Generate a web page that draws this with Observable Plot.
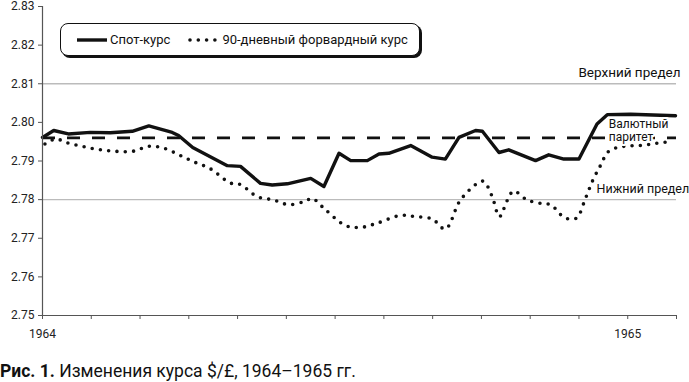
<!DOCTYPE html>
<html>
<head>
<meta charset="utf-8">
<script src="https://cdn.jsdelivr.net/npm/d3@7"></script>
<script src="https://cdn.jsdelivr.net/npm/@observablehq/plot@0.6"></script>
<style>
  html, body { margin: 0; padding: 0; background: #fff; }
  body { width: 689px; height: 382px; overflow: hidden; font-family: Roboto, "Noto Sans", sans-serif; color: #111; }
  #wrap { position: relative; width: 689px; height: 345px; }
  #legend {
    position: absolute; left: 60px; top: 23px; width: 358px; height: 31px;
    border: 1.3px solid #111; border-radius: 8px; box-shadow: 2px 2px 0 #111;
    background: #fff; display: flex; align-items: center; font-size: 13px; box-sizing: content-box;
  }
  #legend svg { display: block; }
  #caption { font-size: 17.5px; margin-top: 15px; line-height: 22px; white-space: nowrap; color: #111; }
</style>
</head>
<body>
<div id="wrap"></div>
<div id="caption"><b>Рис. 1.</b> Изменения курса $/£, 1964–1965 гг.</div>
<script>
// x: months since January 1964 (0 = Jan 1964, 12 = Jan 1965)
const spotMonth = [0, 0.23, 0.53, 0.98, 1.39, 1.84, 2.18, 2.66, 2.79, 3.08, 3.79, 4.06, 4.47, 4.71, 5.02, 5.50, 5.77, 6.08, 6.32, 6.66, 6.90, 7.10, 7.55, 7.99, 8.26, 8.54, 8.88, 9.02, 9.36, 9.56, 10.11, 10.38, 10.69, 11.00, 11.37, 11.58, 12.06, 12.98];
const spotRate  = [2.7961, 2.7979, 2.7970, 2.7974, 2.7973, 2.7977, 2.7991, 2.7974, 2.7966, 2.7935, 2.7888, 2.7886, 2.7842, 2.7838, 2.7841, 2.7855, 2.7834, 2.7920, 2.7901, 2.7901, 2.7918, 2.7920, 2.7940, 2.7910, 2.7905, 2.7961, 2.7979, 2.7977, 2.7922, 2.7929, 2.7901, 2.7916, 2.7905, 2.7905, 2.7996, 2.8020, 2.8021, 2.8017];

const fwdMonth = [0.05, 0.27, 0.51, 0.85, 1.19, 1.84, 2.18, 2.49, 2.83, 3.10, 3.44, 3.85, 4.06, 4.40, 4.74, 5.05, 5.39, 5.53, 5.80, 6.21, 6.52, 6.86, 7.34, 7.65, 7.99, 8.26, 8.57, 8.95, 9.05, 9.22, 9.37, 9.53, 9.66, 9.94, 10.28, 10.42, 10.69, 10.83, 10.96, 11.13, 11.28, 11.44, 11.61, 11.92, 12.26, 12.60, 12.91];
const fwdRate  = [2.7944, 2.7957, 2.7947, 2.7937, 2.7929, 2.7925, 2.7938, 2.7933, 2.7914, 2.7898, 2.7880, 2.7843, 2.7839, 2.7808, 2.7799, 2.7787, 2.7796, 2.7803, 2.7774, 2.7733, 2.7728, 2.7739, 2.7759, 2.7756, 2.7750, 2.7724, 2.7799, 2.7845, 2.7847, 2.7808, 2.7756, 2.7798, 2.7822, 2.7799, 2.7789, 2.7787, 2.7754, 2.7750, 2.7753, 2.7802, 2.7849, 2.7888, 2.7925, 2.7938, 2.7940, 2.7946, 2.7951];

const parity = [2.796];
const limits = [2.81, 2.78];
const yTicks = [2.75, 2.76, 2.77, 2.78, 2.79, 2.80, 2.81, 2.82, 2.83];
const monthTicks = [0, 1, 2, 3, 4, 5, 6, 7, 8, 9, 10, 11, 12, 13];
const yearLabels = {0: "1964", 12: "1965"};
const seriesNames = ["Спот-курс", "90-дневный форвардный курс"];
const upperLabel = ["Верхний предел"];
const parityLabel = ["Валютный\nпаритет"];
const lowerLabel = ["Нижний предел"];

const spot = spotMonth.map((m, i) => ({m, v: spotRate[i]}));
const fwd = fwdMonth.map((m, i) => ({m, v: fwdRate[i]}));

const chart = Plot.plot({
  width: 689,
  height: 345,
  marginTop: 6,
  marginBottom: 30,
  marginLeft: 42,
  marginRight: 13,
  style: {fontFamily: "Roboto, 'Noto Sans', sans-serif", fontSize: "12px", color: "#222", background: "#fff", overflow: "visible"},
  x: {domain: [0, 13], label: null},
  y: {domain: [2.75, 2.83], label: null},
  marks: [
    Plot.ruleY(limits, {stroke: "#bbb", strokeWidth: 1.3}),
    Plot.ruleY(parity, {stroke: "#111", strokeWidth: 2.6, strokeDasharray: "13,12"}),
    Plot.line(fwd, {x: "m", y: "v", curve: "catmull-rom", stroke: "#111", strokeWidth: 3.6, strokeLinecap: "round", strokeDasharray: "0,8.3"}),
    Plot.line(spot, {x: "m", y: "v", stroke: "#111", strokeWidth: 3.4, strokeLinejoin: "round"}),
    Plot.ruleX([0], {stroke: "#555", strokeWidth: 1.2}),
    Plot.ruleY([2.75], {stroke: "#555", strokeWidth: 1.2}),
    Plot.axisY({ticks: yTicks, tickFormat: d3.format(".2f"), tickSize: 4, tickPadding: 4, fontSize: 12, stroke: "#555", label: null}),
    Plot.axisX({ticks: monthTicks, tickFormat: d => yearLabels[d] || "", tickSize: 4, tickPadding: 10, fontSize: 12, stroke: "#555", label: null}),
    Plot.text(upperLabel, {x: 13, y: 2.8128, text: d => d, textAnchor: "end", dx: 4, fontSize: 13.5, fill: "#111"}),
    Plot.text(parityLabel, {x: 11.61, y: 2.7980, text: d => d, textAnchor: "start", lineHeight: 1.1, fontSize: 12, fill: "#111", stroke: "#fff", strokeWidth: 4}),
    Plot.text(lowerLabel, {x: 11.36, y: 2.7828, text: d => d, textAnchor: "start", fontSize: 12.5, fill: "#111", stroke: "#fff", strokeWidth: 4})
  ]
});

const wrap = document.getElementById("wrap");
wrap.appendChild(chart);

const legend = document.createElement("div");
legend.id = "legend";
legend.innerHTML = `
  <svg width="48" height="12" style="margin-left:14px"><line x1="2" y1="6" x2="32" y2="6" stroke="#111" stroke-width="3.4"/></svg>
  <span style="margin-left:-13px">${seriesNames[0]}</span>
  <svg width="40" height="12" style="margin-left:18px"><line x1="2" y1="6" x2="30" y2="6" stroke="#111" stroke-width="3.6" stroke-linecap="round" stroke-dasharray="0,8.3"/></svg>
  <span style="margin-left:-6px">${seriesNames[1]}</span>`;
wrap.appendChild(legend);
</script>
</body>
</html>
